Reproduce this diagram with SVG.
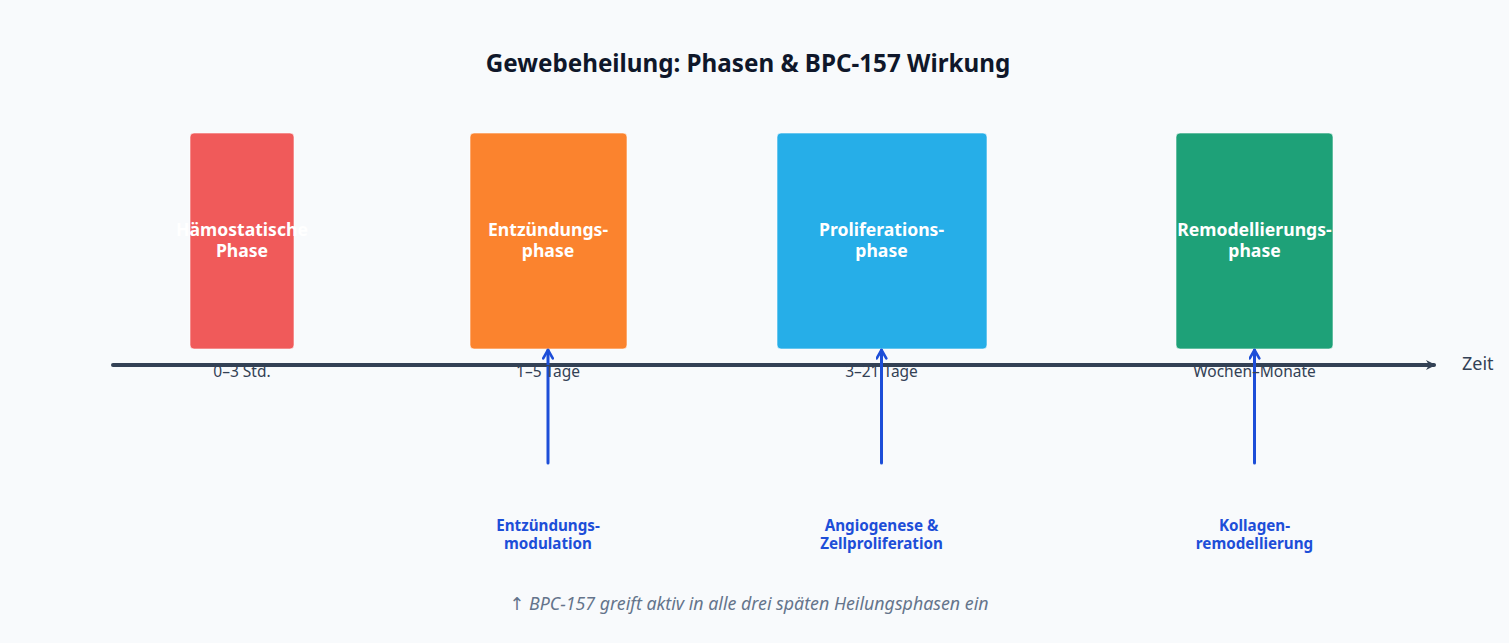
<svg xmlns="http://www.w3.org/2000/svg" width="1509" height="643" viewBox="0 0 1509 643">
<defs>
<style>
text{font-family:"Noto Sans","Open Sans","DejaVu Sans",sans-serif}
.title{font-size:24.2px;font-weight:bold;fill:#0f172a}
.box{stroke:#ffffff;stroke-opacity:0.6;stroke-width:1}
.bl{font-size:17.6px;font-weight:bold;fill:#ffffff}
.tl{font-size:15.5px;fill:#334155}
.eff{font-size:15.2px;font-weight:bold;fill:#1d4ed8}
.note{font-size:17.8px;font-style:italic;fill:#64748b}
.axis{stroke:#334155;stroke-width:4;stroke-linecap:round;fill:none}
.act{stroke:#1d4ed8;stroke-width:3;stroke-linecap:round;fill:none}
</style>
<marker id="ah" viewBox="0 0 10 10" refX="8" refY="5" markerWidth="10" markerHeight="10" markerUnits="userSpaceOnUse" orient="auto">
<path d="M0,0 L10,5 L0,10 L3,5 Z" fill="#334155"/>
</marker>
<marker id="bh" viewBox="0 0 10 10" refX="9" refY="5" markerWidth="12" markerHeight="12" markerUnits="userSpaceOnUse" orient="auto">
<path d="M2,1 L9,5 L2,9" fill="none" stroke="#1d4ed8" stroke-width="2.2" stroke-linecap="round" stroke-linejoin="round"/>
</marker>
</defs>
<rect width="1509" height="643" fill="#f8fafc"/>
<text class="title" x="748" y="72" text-anchor="middle">Gewebeheilung: Phasen &amp; BPC-157 Wirkung</text>

<g id="phase-haemostase">
<rect class="box" x="190" y="133" width="104" height="216" rx="4" fill="#f05a5a"/>
<text class="bl" x="242" y="236" text-anchor="middle">Hämostatische</text>
<text class="bl" x="242" y="257" text-anchor="middle">Phase</text>
</g>
<g id="phase-entzuendung">
<rect class="box" x="470" y="133" width="157" height="216" rx="4" fill="#fb832e"/>
<text class="bl" x="548" y="236" text-anchor="middle">Entzündungs-</text>
<text class="bl" x="548" y="257" text-anchor="middle">phase</text>
</g>
<g id="phase-proliferation">
<rect class="box" x="777" y="133" width="210" height="216" rx="4" fill="#26aee8"/>
<text class="bl" x="881.5" y="236" text-anchor="middle">Proliferations-</text>
<text class="bl" x="881.5" y="257" text-anchor="middle">phase</text>
</g>
<g id="phase-remodellierung">
<rect class="box" x="1176" y="133" width="157" height="216" rx="4" fill="#1ea178"/>
<text class="bl" x="1254.5" y="236" text-anchor="middle">Remodellierungs-</text>
<text class="bl" x="1254.5" y="257" text-anchor="middle">phase</text>
</g>

<g id="connectors">
<line class="axis" x1="113" y1="365" x2="1434" y2="365" marker-end="url(#ah)"/>
<line class="act" x1="548" y1="463" x2="548" y2="350" marker-end="url(#bh)"/>
<line class="act" x1="881.5" y1="463" x2="881.5" y2="350" marker-end="url(#bh)"/>
<line class="act" x1="1254.5" y1="463" x2="1254.5" y2="350" marker-end="url(#bh)"/>
</g>

<g id="axis-labels">
<text x="1462" y="370" font-size="18" fill="#334155">Zeit</text>
<text class="tl" x="242" y="377" text-anchor="middle">0–3 Std.</text>
<text class="tl" x="548" y="377" text-anchor="middle">1–5 Tage</text>
<text class="tl" x="881.5" y="377" text-anchor="middle">3–21 Tage</text>
<text class="tl" x="1254.5" y="377" text-anchor="middle">Wochen–Monate</text>
</g>

<g id="effect-entzuendung">
<text class="eff" x="548" y="531" text-anchor="middle">Entzündungs-</text>
<text class="eff" x="548" y="549" text-anchor="middle">modulation</text>
</g>
<g id="effect-proliferation">
<text class="eff" x="881.5" y="531" text-anchor="middle">Angiogenese &amp;</text>
<text class="eff" x="881.5" y="549" text-anchor="middle">Zellproliferation</text>
</g>
<g id="effect-remodellierung">
<text class="eff" x="1254.5" y="531" text-anchor="middle">Kollagen-</text>
<text class="eff" x="1254.5" y="549" text-anchor="middle">remodellierung</text>
</g>

<text class="note" x="749" y="610" text-anchor="middle">↑ BPC-157 greift aktiv in alle drei späten Heilungsphasen ein</text>
</svg>
